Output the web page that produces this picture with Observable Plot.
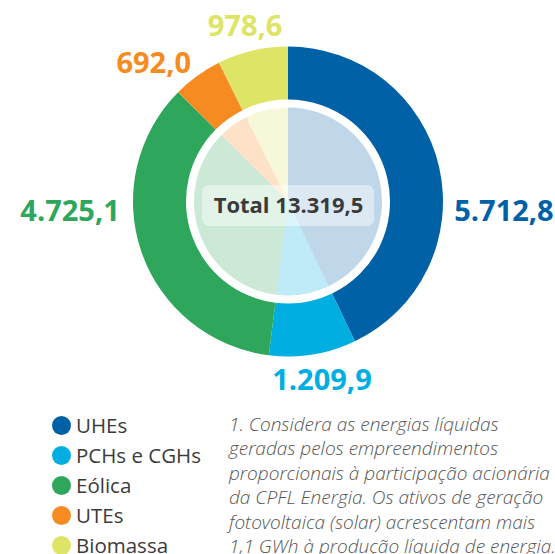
<!DOCTYPE html>
<html><head><meta charset="utf-8">
<script src="https://cdn.jsdelivr.net/npm/d3@7"></script>
<script src="https://cdn.jsdelivr.net/npm/@observablehq/plot@0.6"></script>
<style>
html,body{margin:0;padding:0;background:#fff;overflow:hidden;width:555px;height:554px;position:relative;}
#chart{position:absolute;left:0;top:0;}
.legend{position:absolute;left:52px;top:410px;font-family:"Open Sans",sans-serif;font-size:20.5px;line-height:30px;color:#3b3b3b;}
.legend .row{display:flex;align-items:center;white-space:nowrap;height:30px;}
.legend .sw{width:19px;height:19px;border-radius:50%;margin-right:5px;flex:none;}
.note{position:absolute;left:229px;top:412px;font-family:"Open Sans",sans-serif;font-style:italic;font-weight:300;font-size:19px;line-height:24.4px;color:#555;white-space:nowrap;}
</style>
</head><body>
<div id="chart"></div>
<div class="legend" id="legend"></div>
<div class="note" id="note"></div>
<script>
// ---- data ----
const categories = ["UHEs", "PCHs e CGHs", "Eólica", "UTEs", "Biomassa"];
const values = [5712.8, 1209.9, 4725.1, 692.0, 978.6];
const valueLabels = ["5.712,8", "1.209,9", "4.725,1", "692,0", "978,6"];
const totalLabel = "Total 13.319,5";
const colors = ["#0061a7", "#00aee2", "#2ea75d", "#f68b21", "#dde466"];
const noteLines = [
  "1. Considera as energias líquidas",
  "geradas pelos empreendimentos",
  "proporcionais à participação acionária",
  "da CPFL Energia. Os ativos de geração",
  "fotovoltaica (solar) acrescentam mais",
  "1,1 GWh à produção líquida de energia."
];

// ---- layout ----
const W = 555, H = 400, CX = 288, CY = 201.5;
const R_OUT = 155, R_IN = 102, R_PIE = 94;
const labelAngle = [93.4, 169.4, 266.6, 315.7, 346.1];
const labelRadius = [166, 182, 169, 193, 181];
const labelAnchor = ["start", "middle", "end", "middle", "middle"];
const boxW = 172, boxH = 41, boxDy = -4;

const data = categories.map((c, i) => ({category: c, value: values[i], color: colors[i]}));
const arcs = d3.pie().sort(null).value(d => d.value)(data);

const labelData = data.map((d, i) => {
  const t = labelAngle[i] * Math.PI / 180;
  return {label: valueLabels[i], color: colors[i], anchor: labelAnchor[i],
    px: labelRadius[i] * Math.sin(t), py: labelRadius[i] * Math.cos(t)};
});

function donut(index, scales) {
  const x = scales.x, y = scales.y;
  const cx = x(0), cy = y(0), k = x(1) - x(0);
  const g = d3.create("svg:g").attr("transform", `translate(${cx},${cy})`);
  const outer = d3.arc().innerRadius(R_IN * k).outerRadius(R_OUT * k);
  const inner = d3.arc().innerRadius(0).outerRadius(R_PIE * k);
  g.selectAll("path.o").data(arcs).join("path").attr("class", "o")
    .attr("d", outer).attr("fill", d => d.data.color);
  g.selectAll("path.i").data(arcs).join("path").attr("class", "i")
    .attr("d", inner).attr("fill", d => d.data.color).attr("fill-opacity", 0.25);
  g.append("rect")
    .attr("x", -boxW / 2 * k).attr("y", (-boxH / 2 - boxDy) * k)
    .attr("width", boxW * k).attr("height", boxH * k)
    .attr("rx", 7).attr("fill", "#fff").attr("fill-opacity", 0.45);
  return g.node();
}

const valueText = (anchor) => Plot.text(labelData.filter(d => d.anchor === anchor), {
  x: "px", y: "py", text: "label", fill: "color",
  textAnchor: anchor, fontSize: 29, fontWeight: 700
});

const chart = Plot.plot({
  width: W, height: H,
  margin: 0,
  style: {fontFamily: "'Open Sans', sans-serif", background: "transparent"},
  x: {domain: [-CX, W - CX], range: [0, W], axis: null},
  y: {domain: [-(H - CY), CY], range: [H, 0], axis: null},
  color: {type: "identity"},
  marks: [
    donut,
    valueText("start"),
    valueText("middle"),
    valueText("end"),
    Plot.text([totalLabel], {x: () => 0, y: () => boxDy, text: d => d,
      fill: "#3a3a3a", fontSize: 22, fontWeight: 700})
  ]
});
document.getElementById("chart").appendChild(chart);

const legend = document.getElementById("legend");
categories.forEach((c, i) => {
  const row = document.createElement("div");
  row.className = "row";
  row.innerHTML = `<span class="sw" style="background:${colors[i]}"></span><span>${c}</span>`;
  legend.appendChild(row);
});
document.getElementById("note").innerHTML = noteLines.join("<br>");
</script>
</body></html>
